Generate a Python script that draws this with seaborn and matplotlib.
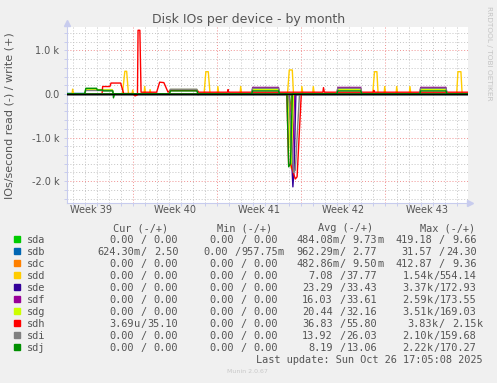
import numpy as np
import pandas as pd
import matplotlib
matplotlib.use("Agg")
import matplotlib.pyplot as plt
from matplotlib.patches import Rectangle
import seaborn as sns

W, H = 497, 383

devices = ['sda', 'sdb', 'sdc', 'sdd', 'sde', 'sdf', 'sdg', 'sdh', 'sdi', 'sdj']
colors = ['#00CC00', '#0066B3', '#FF8000', '#FFCC00', '#330099',
          '#990099', '#CCFF00', '#FF0000', '#808080', '#008F00']

# x = days since Mon 22 Sep 2025 (start of week 39), values in IOs/second
sda_write = [(1.53, 5), (34.94, 5)]
sda_read = [(1.53, 0), (19.95, 0), (20.1, 400), (20.25, 0), (34.94, 0)]
sdb_write = [(1.53, 12), (3.0, 12), (3.1, 3), (34.94, 3)]
sdb_read = [(1.53, 1), (34.94, 1)]
sdc_write = [(1.53, 4), (34.94, 4)]
sdc_read = [(1.53, 0), (19.95, 0), (20.15, 400), (20.3, 0), (34.94, 0)]
sdd_write = [(1.53, 0), (1.95, 0), (2.0, 110), (2.08, 0),
             (6.15, 0), (6.35, 520), (6.5, 520), (6.65, 0),
             (6.95, 0), (7.0, 90), (7.08, 0),
             (7.95, 0), (8.0, 170), (8.08, 0),
             (8.4, 0), (8.45, 100), (8.53, 0),
             (12.95, 0), (13.1, 510), (13.3, 510), (13.45, 0),
             (14.05, 0), (14.1, 170), (14.18, 0),
             (15.95, 0), (16.0, 170), (16.08, 0),
             (19.9, 0), (20.05, 550), (20.3, 550), (20.4, 0),
             (21.05, 0), (21.1, 170), (21.18, 0),
             (22.0, 0), (22.05, 170), (22.13, 0),
             (27.0, 0), (27.15, 510), (27.35, 510), (27.45, 0),
             (27.95, 0), (28.0, 170), (28.08, 0),
             (28.95, 0), (29.0, 170), (29.08, 0),
             (30.05, 0), (30.1, 170), (30.18, 0),
             (34.0, 0), (34.1, 510), (34.35, 510), (34.45, 0), (34.94, 0)]
sdd_read = [(1.53, 0), (20.0, 0), (20.2, 1500), (20.35, 0), (34.94, 0)]
sde_write = [(1.53, 0), (34.94, 0)]
sde_read = [(1.53, 0), (20.0, 0), (20.35, 2130), (20.45, 1700), (20.6, 0), (34.94, 0)]
sdf_write = [(1.53, 0), (16.9, 0), (17.0, 150), (19.15, 150), (19.25, 0),
             (24.0, 0), (24.1, 150), (26.0, 150), (26.1, 0),
             (30.9, 0), (31.0, 150), (33.1, 150), (33.2, 0), (34.94, 0)]
sdf_read = [(1.53, 0), (20.05, 0), (20.3, 1700), (20.5, 0), (34.94, 0)]
sdg_write = [(1.53, 0), (3.0, 0), (3.1, 100), (5.3, 100), (5.4, 0),
             (10.05, 0), (10.15, 100), (12.35, 100), (12.45, 0),
             (16.9, 0), (17.0, 100), (19.15, 100), (19.25, 0),
             (24.0, 0), (24.1, 100), (26.0, 100), (26.1, 0),
             (30.9, 0), (31.0, 100), (33.1, 100), (33.2, 0), (34.94, 0)]
sdg_read = [(1.53, 0), (19.95, 0), (20.2, 1700), (20.4, 0), (34.94, 0)]
sdh_write = [(1.53, 0), (4.45, 0), (4.5, 170), (5.1, 170), (5.2, 250), (6.0, 250),
             (6.25, 10), (7.0, 10), (7.2, -45), (7.4, -20), (7.45, 1460), (7.6, 1460),
             (7.7, 40), (9.0, 40), (9.25, 270), (9.6, 260), (9.95, 40),
             (10.1, 80), (12.4, 80), (12.5, 40), (14.9, 40), (14.95, 100), (15.0, 40),
             (22.85, 40), (22.9, 145), (22.97, 40), (27.05, 40), (27.1, 80),
             (27.15, 40), (34.94, 40)]
sdh_read = [(1.53, 0), (19.85, 0), (20.0, 1650), (20.15, 1600), (20.55, 1950),
            (20.7, 1900), (21.05, 0), (34.94, 0)]
sdi_write = [(1.53, 0), (3.0, 0), (3.1, 80), (5.3, 80), (5.4, 0),
             (10.05, 0), (10.15, 108), (12.35, 108), (12.45, -25), (12.55, 0),
             (16.9, 0), (17.0, 130), (19.15, 130), (19.25, 0),
             (24.0, 0), (24.1, 130), (26.0, 130), (26.1, 0),
             (30.9, 0), (31.0, 130), (33.1, 130), (33.2, 0), (34.94, 0)]
sdi_read = [(1.53, 0), (20.0, 0), (20.4, 1800), (20.55, 1750), (20.9, 0), (34.94, 0)]
sdj_write = [(1.53, 0), (3.0, 0), (3.1, 130), (4.0, 130), (4.05, 90), (4.5, 90),
             (4.55, 70), (5.35, 70), (5.4, -90), (5.5, 0),
             (10.05, 0), (10.15, 70), (12.35, 70), (12.45, 0),
             (16.9, 0), (17.0, 70), (19.15, 70), (19.25, 0),
             (24.0, 0), (24.1, 70), (26.0, 70), (26.1, 0),
             (30.9, 0), (31.0, 70), (33.1, 70), (33.2, 0), (34.94, 0)]
sdj_read = [(1.53, 0), (19.85, 0), (20.0, 1670), (20.15, 1600), (20.3, 0), (34.94, 0)]

write_pts = [sda_write, sdb_write, sdc_write, sdd_write, sde_write,
             sdf_write, sdg_write, sdh_write, sdi_write, sdj_write]
read_pts = [sda_read, sdb_read, sdc_read, sdd_read, sde_read,
            sdf_read, sdg_read, sdh_read, sdi_read, sdj_read]

week_labels = ['Week 39', 'Week 40', 'Week 41', 'Week 42', 'Week 43']
week_centers = [3.5, 10.5, 17.5, 24.5, 31.5]
week_starts = [7, 14, 21, 28]

# legend table (read / write)
cur_read = ['0.00', '624.30m', '0.00', '0.00', '0.00', '0.00', '0.00', '3.69u', '0.00', '0.00']
cur_write = ['0.00', '2.50', '0.00', '0.00', '0.00', '0.00', '0.00', '35.10', '0.00', '0.00']
min_read = ['0.00'] * 10
min_write = ['0.00', '957.75m', '0.00', '0.00', '0.00', '0.00', '0.00', '0.00', '0.00', '0.00']
avg_read = ['484.08m', '962.29m', '482.86m', '7.08', '23.29', '16.03', '20.44', '36.83', '13.92', '8.19']
avg_write = ['9.73m', '2.77', '9.50m', '37.77', '33.43', '33.61', '32.16', '55.80', '26.03', '13.06']
max_read = ['419.18', '31.57', '412.87', '1.54k', '3.37k', '2.59k', '3.51k', '3.83k', '2.10k', '2.22k']
max_write = ['9.66', '24.30', '9.36', '554.14', '172.93', '173.55', '169.03', '2.15k', '159.68', '170.27']

rows = []
for dev, wp, rp in zip(devices, write_pts, read_pts):
    for d, v in wp:
        rows.append((dev, dev + '_w', d, v))
    for d, v in rp:
        rows.append((dev, dev + '_r', d, -v))
df = pd.DataFrame(rows, columns=['device', 'part', 'day', 'value'])

GRAY = '#555555'
AXC = '#c8ccee'
MONO = 'DejaVu Sans Mono'


def fx(x):
    return x / W


def fy(y):
    return 1 - y / H


fig = plt.figure(figsize=(W / 100, H / 100), dpi=100, facecolor='#F0F0F0')
ax = fig.add_axes([fx(67), fy(203), 401 / W, 176 / H])
ax.set_facecolor('white')

sns.lineplot(data=df, x='day', y='value', hue='device', units='part',
             estimator=None, sort=False, hue_order=devices,
             palette=dict(zip(devices, colors)), legend=False,
             linewidth=1.0, ax=ax, zorder=3)
ax.axhline(0, color='black', lw=1.0, zorder=4)

ax.set_xlim(1.53, 34.94)
ax.set_ylim(-2500, 1535)
ax.set_xlabel('')
ax.set_ylabel('')

ax.set_xticks(week_starts)
ax.set_xticks(np.arange(2, 35), minor=True)
ax.set_xticklabels([])
ax.set_yticks([-2000, -1000, 0, 1000])
ax.set_yticklabels(['-2.0 k', '-1.0 k', '0.0', '1.0 k'])
ax.set_yticks(np.arange(-2400, 1535, 200), minor=True)

ax.grid(which='minor', color='#c4c4c4', linestyle=(0, (1, 2)), linewidth=0.7)
ax.grid(which='major', color='#f09090', linestyle=(0, (1, 2)), linewidth=0.7)
ax.set_axisbelow(True)
ax.tick_params(which='both', length=2, width=0.7, color=AXC, direction='out')
ax.tick_params(axis='y', labelsize=7, labelcolor=GRAY, pad=3.5)

for s in ['top', 'right']:
    ax.spines[s].set_visible(False)
for s in ['left', 'bottom']:
    ax.spines[s].set_color(AXC)
    ax.spines[s].set_linewidth(0.8)
ax.plot([0], [1.02], marker='^', ms=4, color=AXC, transform=ax.transAxes, clip_on=False)
ax.plot([1.006], [0], marker='>', ms=4, color=AXC, transform=ax.transAxes, clip_on=False)

for xc, lab in zip(week_centers, week_labels):
    ax.text(xc, -0.04, lab, transform=ax.get_xaxis_transform(), ha='center',
            va='center', fontsize=7, color=GRAY)

fig.text(fx(248.3), fy(19), 'Disk IOs per device - by month', ha='center',
         va='center', fontsize=9, color=GRAY)
fig.text(fx(10), fy(115.8), 'IOs/second read (-) / write (+)', rotation=90,
         ha='center', va='center', fontsize=8, color=GRAY)
fig.text(fx(488.5), fy(53.5), 'RRDTOOL / TOBI OETIKER', rotation=270,
         ha='center', va='center', fontsize=5.3, color='#c4c4c4')

# legend table
cw = 6.17
fs = 7.4
neg_right = [134.0, 233.4, 332.8, 432.2]
slash_x = [143.7, 243.1, 342.5, 441.9]
pos_right = [178.3, 277.7, 377.1, 476.5]
headers = ['Cur (-/+)', 'Min (-/+)', 'Avg (-/+)', 'Max (-/+)']
header_right = [168.3, 271.7, 373.3, 475.0]
for hx, h in zip(header_right, headers):
    fig.text(fx(hx), fy(227.7 + 3.7), h, ha='right', va='baseline',
             family=MONO, fontsize=fs, color=GRAY)


def split(v):
    if v[-1].isalpha():
        return v[:-1], v[-1]
    return v, ''


cols = [(cur_read, cur_write), (min_read, min_write),
        (avg_read, avg_write), (max_read, max_write)]
for i, dev in enumerate(devices):
    y = 239.3 + 12 * i
    fig.add_artist(Rectangle((fx(13.5), fy(y + 3)), 6.5 / W, 6.5 / H,
                             transform=fig.transFigure, color=colors[i]))
    fig.text(fx(26.7), fy(y + 3.7), dev, ha='left', va='baseline',
             family=MONO, fontsize=fs, color=GRAY)
    for c, (rv, wv) in enumerate(cols):
        pnum, psuf = split(wv[i])
        nnum, nsuf = split(rv[i])
        pstart = pos_right[c] - len(pnum) * cw
        sx = min(slash_x[c], pstart - cw / 2)
        nright = min(neg_right[c], sx - cw / 2 - (cw if nsuf else 0))
        if nsuf == '':
            nright = min(neg_right[c], sx - 1.5 * cw)
        fig.text(fx(pos_right[c]), fy(y + 3.7), pnum, ha='right', va='baseline',
                 family=MONO, fontsize=fs, color=GRAY)
        if psuf:
            fig.text(fx(pos_right[c]), fy(y + 3.7), psuf, ha='left', va='baseline',
                     family=MONO, fontsize=fs, color=GRAY)
        fig.text(fx(sx), fy(y + 3.7), '/', ha='center', va='baseline',
                 family=MONO, fontsize=fs, color=GRAY)
        fig.text(fx(nright), fy(y + 3.7), nnum, ha='right', va='baseline',
                 family=MONO, fontsize=fs, color=GRAY)
        if nsuf:
            fig.text(fx(nright), fy(y + 3.7), nsuf, ha='left', va='baseline',
                     family=MONO, fontsize=fs, color=GRAY)

fig.text(fx(482.7), fy(359.3 + 3.7), 'Last update: Sun Oct 26 17:05:08 2025',
         ha='right', va='baseline', family=MONO, fontsize=fs, color=GRAY)
fig.text(fx(247.5), fy(371.7), 'Munin 2.0.67', ha='center', va='center',
         fontsize=4.5, color='#c8c8c8')

fig.savefig('out.png', dpi=100, facecolor=fig.get_facecolor())
